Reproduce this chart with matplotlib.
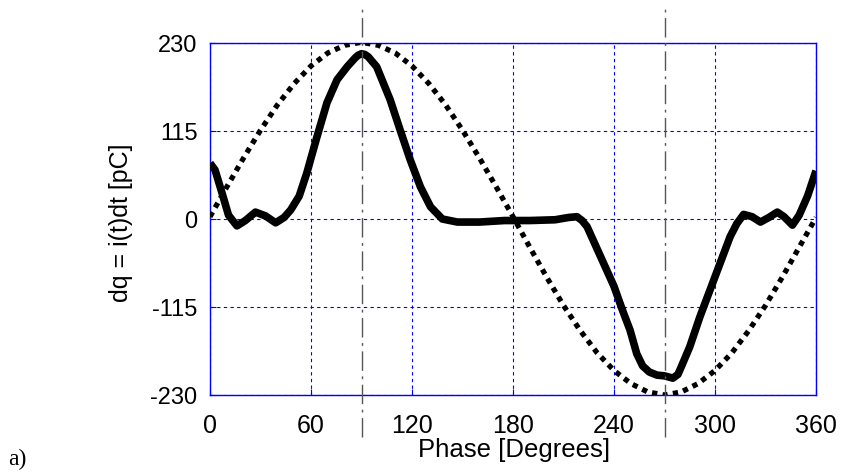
import matplotlib
matplotlib.use('Agg')
import matplotlib.pyplot as plt
import numpy as np

plt.rcParams['axes.unicode_minus'] = False

# phase axis (degrees) and the two traces
sine_phase = [0, 10, 20, 30, 40, 50, 60, 70, 80, 90, 100, 110, 120, 130, 140, 150, 160, 170, 180,
              190, 200, 210, 220, 230, 240, 250, 260, 270, 280, 290, 300, 310, 320, 330, 340, 350, 360]
sine_vals = [3, 42, 80, 116, 149, 177, 200, 217, 227, 231, 227, 217, 200, 177, 149, 116, 80, 42, 3,
             -37, -76, -113, -146, -175, -198, -215, -226, -230, -226, -215, -198, -175, -146, -113, -76, -37, 2]

dq_phase = [0, 3, 7, 11, 16, 21, 27, 33, 39, 44, 48, 53, 57.5, 63.5, 69.5, 75.5, 81.5, 86, 88, 90, 92, 94, 99,
            107, 113, 119, 125, 131, 138, 147, 160, 175, 190, 205, 213, 218, 221, 224, 232, 240, 245,
            249.5, 253.5, 257, 261, 265.5, 270, 275, 278, 280, 285, 291, 297, 303, 309, 313, 317, 322, 327,
            332, 337, 341, 346, 350, 355, 360]
dq_vals = [73, 64, 35, 5, -9, -2, 9, 4, -5, 2, 12, 30, 60, 107, 152, 182, 199, 210, 214, 216, 215, 212, 199,
           156, 116, 77, 42, 16, 0, -4, -4, -2, -2, -1, 2, 3, -2, -10, -49, -88, -119,
           -145, -176, -192, -200, -204, -205, -208, -203, -193, -167, -128, -93, -58, -23, -6, 6, 3, -4,
           2, 9, 3, -8, 5, 30, 63]

xticks = [0, 60, 120, 180, 240, 300, 360]
yticks = [-230, -115, 0, 115, 230]
markers = [90, 270]

fig = plt.figure(figsize=(8.43, 4.72), dpi=100)
ax = fig.add_axes([210/843, 77/472, 606/843, 352/472])

ax.plot(sine_phase, sine_vals, color='black', lw=3.8, linestyle=(0, (1, 1)),
        dash_capstyle='butt', zorder=3)
ax.plot(dq_phase, dq_vals, color='black', lw=5.5, solid_capstyle='butt',
        solid_joinstyle='round', zorder=4)

for m in markers:
    ax.plot([m, m], [-285, 277], color='#555555', lw=1.0,
            linestyle=(0, (14, 4, 2, 4)), clip_on=False, zorder=5)

ax.set_xlim(0, 360)
ax.set_ylim(-230, 230)
ax.set_xticks(xticks)
ax.set_yticks(yticks)
ax.grid(True, color='blue', linestyle=(0, (3, 3)), lw=0.8)
for s in ax.spines.values():
    s.set_color('blue')
    s.set_linewidth(1.0)

font = 'Liberation Sans'
ax.tick_params(direction='in', length=4, color='blue')
ax.tick_params(axis='x', labelsize=18, pad=14)
ax.tick_params(axis='y', labelsize=17, pad=9)
for lab in ax.get_xticklabels() + ax.get_yticklabels():
    lab.set_fontfamily(font)

ax.set_xlabel('Phase [Degrees]', fontsize=18.5, fontfamily=font, va='top')
ax.set_ylabel('dq = i(t)dt [pC]', fontsize=18, fontfamily=font)
ax.xaxis.set_label_coords(0.502, -0.122)
ax.yaxis.set_label_coords(-0.127, 0.49)

fig.text(8/843, 0.015, 'a)', fontsize=17, fontfamily='Liberation Serif')

fig.savefig('out.png', dpi=100)
